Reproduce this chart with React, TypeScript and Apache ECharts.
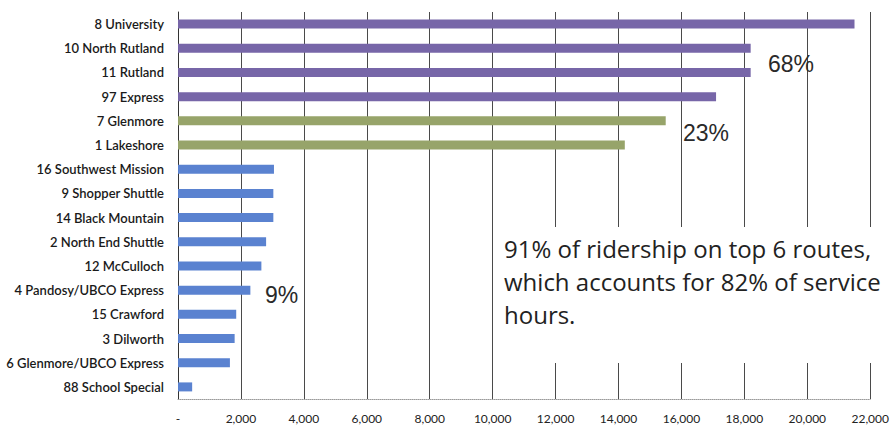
import React, { useEffect, useRef } from "react";
import * as echarts from "echarts";

const categories = [
  "8 University",
  "10 North Rutland",
  "11 Rutland",
  "97 Express",
  "7 Glenmore",
  "1 Lakeshore",
  "16 Southwest Mission",
  "9 Shopper Shuttle",
  "14 Black Mountain",
  "2 North End Shuttle",
  "12 McCulloch",
  "4 Pandosy/UBCO Express",
  "15 Crawford",
  "3 Dilworth",
  "6 Glenmore/UBCO Express",
  "88 School Special",
];

const ridership = [
  21500, 18200, 18200, 17100, 15500, 14200, 3050, 3030, 3030, 2800, 2650, 2300,
  1850, 1800, 1650, 450,
];

// group of each route: 0 = top (68%), 1 = middle (23%), 2 = rest (9%)
const groups = [0, 0, 0, 0, 1, 1, 2, 2, 2, 2, 2, 2, 2, 2, 2, 2];
const groupColors = ["#7766a8", "#97a46a", "#5a82d0"];

const xTicks = { min: 0, max: 22000, interval: 2000 };

const groupLabels = ["68%", "23%", "9%"];
const noteLines = [
  "91% of ridership on top 6 routes,",
  "which accounts for 82% of service",
  "hours.",
];

export default function App() {
  const ref = useRef<HTMLDivElement>(null);

  useEffect(() => {
    document.body.style.margin = "0";
    if (!ref.current) return;
    const chart = echarts.init(ref.current, null, { renderer: "svg" });
    const labelFont = "Lato, 'Open Sans', sans-serif";
    const pctFont = "'Liberation Sans', Arial, sans-serif";
    chart.setOption({
      animation: false,
      backgroundColor: "#ffffff",
      grid: { left: 178, right: 20, top: 12, bottom: 26, containLabel: false },
      xAxis: {
        type: "value",
        min: xTicks.min,
        max: xTicks.max,
        interval: xTicks.interval,
        axisLine: {
          show: true,
          lineStyle: { color: "#9a9a9a", width: 1, type: "dotted" },
        },
        axisTick: { show: false },
        splitLine: { show: true, lineStyle: { color: "#4a4a4a", width: 1 } },
        axisLabel: {
          color: "#222",
          fontSize: 12,
          fontFamily: labelFont,
          margin: 13,
          formatter: (v: number) => (v === 0 ? "-" : v.toLocaleString("en-US")),
        },
      },
      yAxis: {
        type: "category",
        inverse: true,
        data: categories,
        axisLine: { show: true, lineStyle: { color: "#333", width: 1 } },
        axisTick: { show: false },
        axisLabel: {
          color: "#1a1a1a",
          fontSize: 13,
          fontWeight: 600,
          fontFamily: labelFont,
          margin: 14,
        },
      },
      series: [
        {
          type: "bar",
          barWidth: 9,
          data: ridership.map((v, i) => ({
            value: v,
            itemStyle: { color: groupColors[groups[i]] },
          })),
          z: 3,
        },
      ],
      graphic: [
        {
          type: "rect",
          z: 1,
          shape: { x: 500, y: 227, width: 380, height: 136 },
          style: { fill: "#ffffff" },
        },
        {
          type: "text",
          z: 5,
          x: 768,
          y: 52,
          style: { text: groupLabels[0], fontSize: 23, fontFamily: pctFont, fill: "#2a2a2a" },
        },
        {
          type: "text",
          z: 5,
          x: 683,
          y: 121,
          style: { text: groupLabels[1], fontSize: 23, fontFamily: pctFont, fill: "#2a2a2a" },
        },
        {
          type: "text",
          z: 5,
          x: 265,
          y: 283,
          style: { text: groupLabels[2], fontSize: 23, fontFamily: pctFont, fill: "#2a2a2a" },
        },
        {
          type: "text",
          z: 5,
          x: 504,
          y: 232,
          style: {
            text: noteLines.join("\n"),
            fontSize: 24,
            lineHeight: 33,
            fontFamily: "'Open Sans', Lato, sans-serif",
            fill: "#222",
          },
        },
      ],
    });
    return () => chart.dispose();
  }, []);

  return <div ref={ref} style={{ width: 892, height: 425 }} />;
}
